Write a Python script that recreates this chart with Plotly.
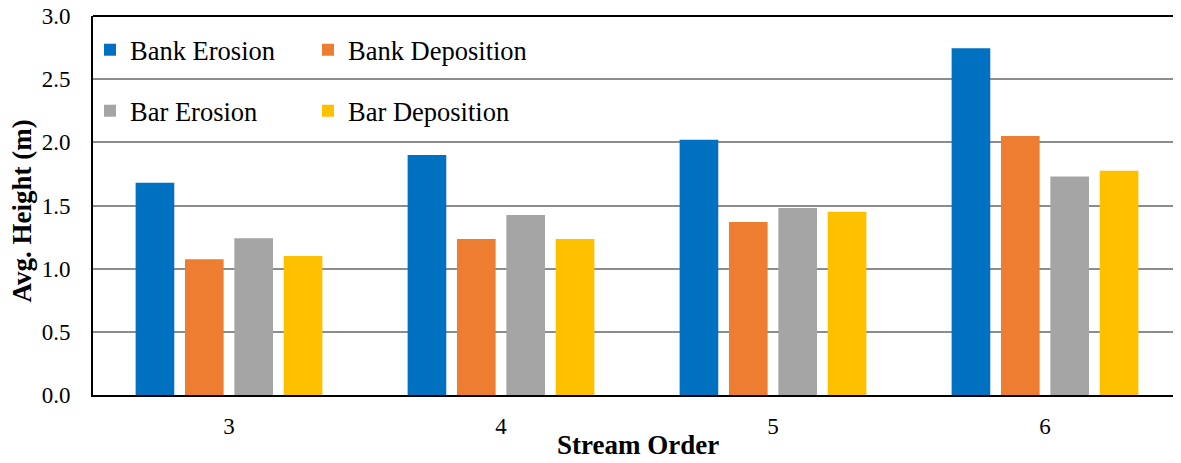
import plotly.graph_objects as go

stream_order = ["3", "4", "5", "6"]
bank_erosion = [1.68, 1.90, 2.02, 2.745]
bank_deposition = [1.075, 1.235, 1.37, 2.05]
bar_erosion = [1.24, 1.425, 1.48, 1.73]
bar_deposition = [1.10, 1.235, 1.45, 1.775]

series = [
    ("Bank Erosion", bank_erosion, "#0070C0", "legend"),
    ("Bank Deposition", bank_deposition, "#ED7D31", "legend"),
    ("Bar Erosion", bar_erosion, "#A5A5A5", "legend2"),
    ("Bar Deposition", bar_deposition, "#FFC000", "legend2"),
]

font_family = "Liberation Serif, Times New Roman, serif"

# figure sized to fit inside the page's default 8px body margin
W, H = 1165, 447
ML, MT, MB = 85, 8, 60
plot_h = H - MT - MB  # 379
plot_w = W - ML       # 1080

fig = go.Figure()
for name, vals, color, lg in series:
    fig.add_trace(go.Bar(x=stream_order, y=vals, name=name, marker_color=color,
                         marker_line_width=0, legend=lg))

leg_common = dict(orientation="h", xanchor="left", yanchor="middle",
                  entrywidth=173, entrywidthmode="pixels",
                  font=dict(family=font_family, size=26.5, color="black"),
                  bgcolor="rgba(0,0,0,0)", traceorder="normal",
                  itemclick=False, itemdoubleclick=False)

fig.update_layout(
    width=W, height=H,
    margin=dict(l=ML, r=0, t=MT, b=MB),
    plot_bgcolor="white", paper_bgcolor="white",
    barmode="group", bargap=0.274, bargroupgap=0.217,
    font=dict(family=font_family, color="black"),
    showlegend=True,
    legend=dict(x=-3 / plot_w, y=(395 - 50) / plot_h, **leg_common),
    legend2=dict(x=-3 / plot_w, y=(395 - 111) / plot_h, **leg_common),
    xaxis=dict(range=[-0.5, 3.5 - 8 / 272], automargin=False,
               showline=True, linecolor="black", linewidth=2, mirror=False,
               showgrid=False, ticks="", tickfont=dict(size=23),
               ticklabelstandoff=9),
    yaxis=dict(range=[0, 3.0], dtick=0.5, tickformat=".1f", automargin=False,
               showline=True, linecolor="black", linewidth=2, mirror=False,
               showgrid=True, gridcolor="#8C8C8C", gridwidth=2,
               zeroline=False, ticks="", tickfont=dict(size=23),
               ticklabelstandoff=16, ticklabeloverflow="allow"),
    shapes=[dict(type="line", xref="paper", yref="paper", x0=0, x1=1, y0=1, y1=1,
                 line=dict(color="black", width=2))],
    annotations=[
        dict(text="<b>Stream Order</b>", xref="paper", yref="paper",
             x=(637.5 - 93) / plot_w, y=-(445 - 395) / plot_h,
             xanchor="center", yanchor="middle", showarrow=False,
             font=dict(size=27, family=font_family, color="black")),
        dict(text="<b>Avg. Height (m)</b>", xref="paper", yref="paper",
             x=-(93 - 21.5) / plot_w, y=(395 - 211) / plot_h,
             xanchor="center", yanchor="middle",
             textangle=-90, showarrow=False,
             font=dict(size=27, family=font_family, color="black")),
    ],
)

fig.write_html("out.html")
